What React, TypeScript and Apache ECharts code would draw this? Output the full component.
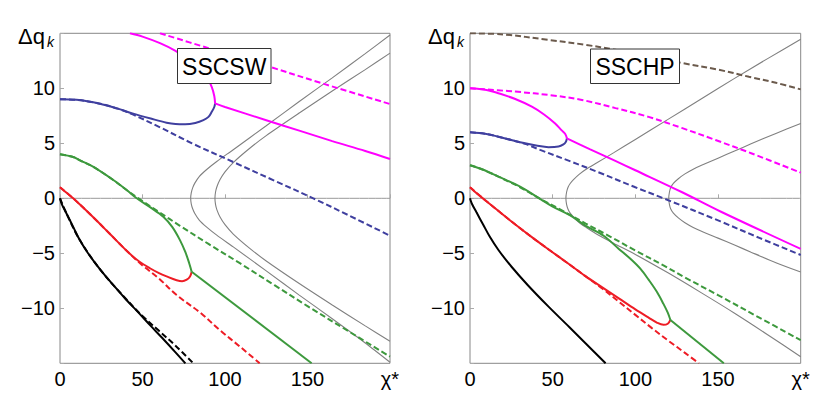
import React, { useEffect, useRef } from "react";
import * as echarts from "echarts";

// ---------- data ----------
const X_TICK_END = 200; // shown as χ*
const Y_HIDDEN = [15, -15];

// Left panel: SSCSW
const A_black = [[0,0],[1,-0.5],[4,-1.4],[8,-2.6],[12,-3.8],[17,-5],[25,-6.6],[33,-8],[40,-9.2],[47,-10.3],[55,-11.6],[62,-12.7],[70,-14],[76,-15]];
const A_blackDash = [[0,0],[4,-1.4],[12,-3.8],[25,-6.6],[40,-9.15],[50,-10.7],[60,-12.05],[70,-13.4],[80.8,-15]];
const A_red = [[0,1],[4,0.5],[8,0],[20,-1.7],[30,-3.2],[42,-5],[48,-5.75],[54.5,-6.36],[60,-6.8],[64.6,-7.1],[70.7,-7.45],[74,-7.55],[76.8,-7.4],[78.8,-7.1],[79.8,-6.67]];
const A_redDash = [[0,1],[8,0],[20,-1.7],[30,-3.2],[42,-5],[50,-6.1],[60,-7.3],[70.7,-8.8],[85,-10.4],[97,-12],[110,-13.6],[121,-15]];
const A_green = [[0,4],[8,3.75],[12.1,3.45],[20,2.87],[32.3,1.66],[40.4,0.75],[46.5,0],[55,-0.85],[62.6,-1.67],[68,-2.6],[72.7,-3.8],[76,-4.9],[78.3,-5.9],[79.8,-6.67]];
const A_greenLow = [[79.8,-6.67],[152.5,-15]];
const A_greenDash = [[0,4],[8,3.75],[12.1,3.45],[20,2.87],[32.3,1.66],[40.4,0.75],[48.5,-0.1],[60,-1.25],[72.7,-2.5],[90,-4.15],[109,-5.9],[130,-7.9],[150,-9.8],[175,-12.1],[200,-14.4]];
const A_blue = [[0,9],[10,8.95],[24.2,8.6],[35,8.15],[44.4,7.7],[55,7.25],[64.6,6.87],[70,6.75],[75.8,6.73],[82,6.85],[86.9,7.1],[90,7.4],[92,7.87],[93.5,8.3],[94,8.63]];
const A_blueDash = [[0,9],[10,8.95],[24.2,8.6],[35,8.15],[44.4,7.6],[60,6.5],[80,5.0],[105,3.3],[130,1.6],[153.5,0],[175,-1.55],[200,-3.4]];
const A_magUp = [[42.4,15],[50,14.7],[60.6,14.1],[70,13.4],[76.8,12.7],[83,11.9],[88.9,11.06],[92,10.1],[93.5,9.3],[94,8.63]];
const A_magLow = [[94,8.63],[100,8.3],[125,7.1],[145,6.15],[165,5.2],[185,4.3],[200,3.57]];
const A_magDash = [[60.6,15],[90,13.65],[125,12.05],[160,10.4],[200,8.57]];
const A_grayL = [[200,14.85],[185,13.15],[165,10.95],[145,8.8],[125,6.6],[105,4.42],[95,3.35],[88.9,2.62],[84.5,2.0],[81.8,1.4],[80.4,0.95],[79.55,0.5],[79.2,0],[79.55,-0.5],[80.4,-0.95],[81.8,-1.4],[84.5,-2.0],[88.9,-2.62],[95,-3.35],[105,-4.42],[125,-6.6],[145,-8.8],[165,-10.95],[185,-13.15],[200,-14.9]];
const A_grayR = [[200,13.2],[185,11.7],[165,9.75],[145,7.75],[125,5.7],[115,4.55],[105,3.25],[100,2.4],[97,1.7],[95.1,1.05],[94.25,0.55],[93.9,0],[94.25,-0.55],[95.1,-1.05],[97,-1.7],[100,-2.4],[105,-3.25],[115,-4.55],[125,-5.7],[145,-7.75],[165,-9.7],[185,-11.6],[200,-13.0]];

// Right panel: SSCHP
const B_black = [[0,0],[1,-0.45],[4,-1.3],[8,-2.4],[12,-3.5],[17.2,-4.7],[25,-6.2],[35,-7.9],[47.5,-9.85],[60,-11.7],[70,-13.2],[82,-15]];
const B_red = [[0,1],[4,0.45],[9,-0.15],[18,-1.25],[28,-2.45],[38,-3.6],[48,-4.7],[60,-6.0],[70,-7.1],[80,-8.1],[90,-9.1],[100,-10.1],[108,-10.85],[113,-11.3],[117,-11.5],[119.6,-11.4],[121.2,-11.06]];
const B_redDash = [[0,1],[9,-0.15],[18,-1.25],[28,-2.45],[38,-3.6],[48,-4.7],[60,-6.0],[70,-7.1],[80,-8.2],[90,-9.4],[100,-10.6],[110,-11.8],[120,-12.95],[130,-14.05],[138.4,-15]];
const B_green = [[0,3],[8,2.6],[17.2,1.97],[30.3,1.06],[42.4,-0.05],[50,-0.75],[60.6,-1.55],[70,-2.5],[80.8,-3.4],[90,-4.6],[97,-5.5],[103,-6.4],[108,-7.4],[113,-8.5],[117,-9.6],[119.6,-10.4],[121.2,-11.06]];
const B_greenLow = [[121.2,-11.06],[153.5,-15]];
const B_greenDash = [[0,3],[8,2.6],[17.2,1.97],[30.3,1.0],[42.4,-0.05],[55,-1.05],[70,-2.3],[85,-3.5],[100,-4.75],[117,-6.1],[130,-7.2],[150,-8.8],[175,-10.85],[200,-12.9]];
const B_blue = [[0,6],[10,5.85],[17.2,5.6],[25,5.3],[33.3,5.0],[40,4.8],[47.5,4.65],[53.5,4.7],[56.5,4.9],[58,5.15],[58.6,5.45]];
const B_blueDash = [[0,6],[10,5.85],[17.2,5.6],[25,5.3],[33.3,4.95],[42.4,4.4],[60,3.4],[76.8,2.42],[100,1.0],[117,0],[151.5,-2.1],[175,-3.6],[200,-5.15]];
const B_magUp = [[0,10],[10,9.85],[17.2,9.55],[27,9.05],[37.4,8.33],[45,7.6],[51.5,6.8],[55.3,6.2],[57.6,5.85],[58.6,5.45]];
const B_magLow = [[58.6,5.45],[72.7,4.45],[87.9,3.4],[100,2.55],[128.3,0.55],[151.5,-1.2],[200,-4.6]];
const B_magDash = [[0,10],[27.3,9.7],[50,9.35],[67.7,8.94],[88,8.2],[108,7.4],[128,6.4],[148.5,5.3],[170,4.1],[200,2.33]];
const B_brownDash = [[0,15],[20,14.9],[47.5,14.4],[70,13.95],[87.9,13.5],[110,12.9],[128.3,12.3],[150,11.7],[168.7,11.05],[185,10.5],[200,9.9]];
const B_grayL = [[200,14.45],[180,12.7],[160,10.9],[140,9.05],[120,7.2],[100,5.35],[87,4.15],[77,3.25],[70,2.62],[66,2.18],[62.6,1.7],[60.6,1.35],[59.3,1.0],[58.4,0.55],[58,0],[58.4,-0.55],[59.3,-1.0],[60.6,-1.35],[62.6,-1.7],[66,-2.2],[70,-2.62],[77,-3.3],[87,-4.1],[100,-5.1],[120,-6.8],[140,-8.6],[160,-10.45],[180,-12.4],[200,-14.4]];
const B_grayR = [[200,6.8],[185,5.9],[170,4.95],[160,4.3],[150,3.65],[140,3.0],[135,2.65],[130,2.22],[126,1.78],[123,1.35],[121.4,0.98],[120.6,0.55],[120.2,0],[120.6,-0.55],[121.4,-0.98],[123,-1.35],[126,-1.78],[130,-2.22],[135,-2.65],[140,-3.0],[150,-3.62],[160,-4.25],[170,-4.9],[185,-5.85],[200,-6.7]];

const ZERO_LINE = [[0,0],[200,0]];
const PANEL_LABELS = ["SSCSW", "SSCHP"];

// ---------- styling ----------
const FONT = "'Liberation Sans', Arial, sans-serif";
const C = {
  black: "#000000",
  red: "#ee1c25",
  green: "#3d993d",
  blue: "#3f3f9f",
  magenta: "#ff00ff",
  gray: "#808080",
  brown: "#6b5a4c",
  zero: "#999999",
};
const DASH = [6, 3];

function line(data: number[][], color: string, gi: number, dashed = false, width = 2, z = 3, smooth = 0.35) {
  return {
    type: "line",
    xAxisIndex: gi,
    yAxisIndex: gi,
    data,
    symbol: "none",
    showSymbol: false,
    smooth,
    silent: true,
    clip: true,
    z,
    lineStyle: { color, width, type: dashed ? DASH : "solid", cap: "butt" },
  };
}

const GRIDS = [
  { left: 60, top: 33.3, width: 330, height: 330 },
  { left: 470, top: 33.3, width: 330.7, height: 330 },
];

export default function App() {
  const ref = useRef<HTMLDivElement>(null);
  useEffect(() => {
    if (!ref.current) return;
    const chart = echarts.init(ref.current, null, { renderer: "svg" });
    const xAxis = [0, 1].map((i) => ({
      type: "value",
      gridIndex: i,
      min: 0,
      max: 200,
      interval: 50,
      axisLine: { show: false },
      splitLine: { show: false },
      axisTick: { show: true, inside: true, length: 4, lineStyle: { color: "#aaaaaa" } },
      axisLabel: {
        fontFamily: FONT,
        fontSize: 20,
        color: "#000",
        margin: 6,
        formatter: (v: number) => (v === X_TICK_END ? "χ*" : String(v)),
      },
    }));
    const yAxis = [0, 1].map((i) => ({
      type: "value",
      gridIndex: i,
      min: -15,
      max: 15,
      interval: 5,
      axisLine: { show: false },
      splitLine: { show: false },
      axisTick: { show: true, inside: true, length: 4, lineStyle: { color: "#aaaaaa" } },
      axisLabel: {
        fontFamily: FONT,
        fontSize: 20,
        color: "#000",
        margin: 5,
        formatter: (v: number) =>
          Y_HIDDEN.includes(v) ? "" : v < 0 ? "\u2212" + String(-v) : String(v),
      },
    }));
    const series = [
      line(ZERO_LINE, C.zero, 0, false, 1, 1),
      line(ZERO_LINE, C.zero, 1, false, 1, 1),
      // left
      line(A_grayL, C.gray, 0, false, 1.1, 2, 0.25),
      line(A_grayR, C.gray, 0, false, 1.1, 2, 0.25),
      line(A_blackDash, C.black, 0, true),
      line(A_black, C.black, 0),
      line(A_redDash, C.red, 0, true),
      line(A_red, C.red, 0),
      line(A_greenDash, C.green, 0, true),
      line(A_green, C.green, 0),
      line(A_greenLow, C.green, 0),
      line(A_blueDash, C.blue, 0, true),
      line(A_blue, C.blue, 0),
      line(A_magDash, C.magenta, 0, true),
      line(A_magUp, C.magenta, 0),
      line(A_magLow, C.magenta, 0),
      // right
      line(B_grayL, C.gray, 1, false, 1.1, 2, 0.25),
      line(B_grayR, C.gray, 1, false, 1.1, 2, 0.25),
      line(B_black, C.black, 1),
      line(B_redDash, C.red, 1, true),
      line(B_red, C.red, 1),
      line(B_greenDash, C.green, 1, true),
      line(B_green, C.green, 1),
      line(B_greenLow, C.green, 1),
      line(B_blueDash, C.blue, 1, true),
      line(B_blue, C.blue, 1),
      line(B_magDash, C.magenta, 1, true),
      line(B_magUp, C.magenta, 1),
      line(B_magLow, C.magenta, 1),
      line(B_brownDash, C.brown, 1, true),
    ];
    const boxes = [
      { x: 177.5, y: 48.5, w: 93.5, h: 35, label: PANEL_LABELS[0] },
      { x: 590.5, y: 49, w: 89, h: 34.5, label: PANEL_LABELS[1] },
    ];
    const graphic: any[] = [];
    boxes.forEach((b) => {
      graphic.push({
        type: "rect",
        z: 100,
        shape: { x: b.x, y: b.y, width: b.w, height: b.h },
        style: { fill: "#fff", stroke: "#333", lineWidth: 1 },
      });
      graphic.push({
        type: "text",
        z: 101,
        x: b.x + b.w / 2,
        y: b.y + b.h / 2 + 1,
        style: {
          text: b.label,
          font: `23px ${FONT}`,
          fill: "#000",
          textAlign: "center",
          textVerticalAlign: "middle",
        },
      });
    });
    [18, 428].forEach((x0) => {
      graphic.push({
        type: "text",
        z: 101,
        x: x0,
        y: 36,
        style: { text: "Δq", font: `22px ${FONT}`, fill: "#000", textAlign: "left", textVerticalAlign: "middle" },
      });
      graphic.push({
        type: "text",
        z: 101,
        x: x0 + 29,
        y: 42,
        style: { text: "k", font: `italic 14px ${FONT}`, fill: "#000", textAlign: "left", textVerticalAlign: "middle" },
      });
    });
    chart.setOption({
      animation: false,
      backgroundColor: "#fff",
      grid: GRIDS.map((g) => ({ ...g, show: true, borderColor: "#888", borderWidth: 1, backgroundColor: "transparent", containLabel: false })),
      xAxis,
      yAxis,
      series,
      graphic,
    });
    return () => chart.dispose();
  }, []);
  return (
    <div
      ref={ref}
      style={{ position: "absolute", left: 0, top: 0, width: 830, height: 415, background: "#fff" }}
    />
  );
}
